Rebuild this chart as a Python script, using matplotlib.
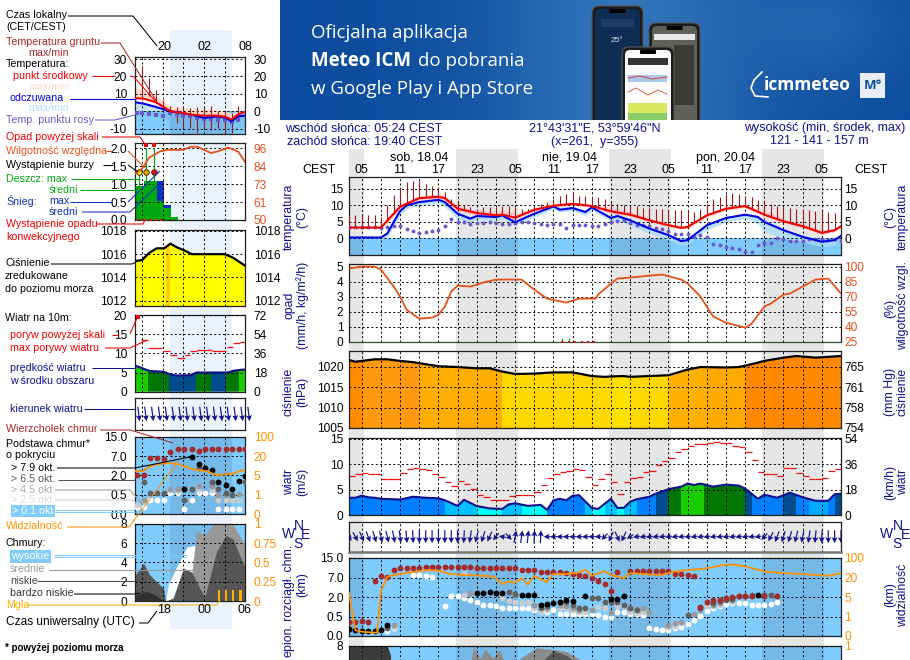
import numpy as np
import matplotlib
matplotlib.use('Agg')
import matplotlib.pyplot as plt
from matplotlib.patches import Polygon, Rectangle, FancyBboxPatch

W, H = 910, 660
plt.rcParams['font.family'] = ['Liberation Sans', 'DejaVu Sans']

BLUE_BG = '#80ccff'
NIGHT_GRAY = '#e6e6e6'
NIGHT_PALE = '#eaf2fd'
NAVY = '#10108c'
RH_COL = '#e8501a'
VIS_COL = '#ff9000'
TOP_COL = '#a52a2a'
GROUND_COL = '#a01818'
DEW_COL = '#6a5acd'

km_levels = [0, 0.5, 2, 7, 15]
vis_levels = [0, 1, 5, 20, 100]
positions = [0, 1, 2, 3, 4]

# ---- long forecast, hours counted from sat 18.04 00:00 local
night_main = [(3, 5.4), (19.67, 29.4), (43.67, 53.4), (67.67, 77.4)]
hour_ticks = [5, 11, 17, 23, 29, 35, 41, 47, 53, 59, 65, 71, 77]
hour_labels = ['05', '11', '17', '23', '05', '11', '17', '23', '05', '11', '17', '23', '05']

temp_hours = [3, 5, 8, 11, 14, 17, 18, 20, 23, 26, 27, 29, 32, 35, 38, 41, 44, 47, 50, 53, 55, 56, 59, 62, 65, 68, 71, 74, 77, 79, 80]
temp_mid = [3.3, 3.3, 3.3, 9.6, 12.2, 12.6, 12.2, 9.0, 7.7, 7.0, 7.2, 6.3, 8.7, 9.9, 10.5, 9.8, 8.2, 7.2, 5.5, 4.0, 3.2, 3.5, 7.0, 9.0, 9.8, 7.2, 5.2, 3.7, 1.7, 2.5, 3.7]
temp_hi = [3.6, 3.6, 3.6, 10.5, 13, 13.5, 13, 10, 8.5, 8.2, 8.5, 7.6, 9.2, 10.4, 11, 10.3, 9.4, 8.2, 6.2, 4.6, 3.7, 4, 7.6, 9.6, 10.4, 8.6, 6, 4.6, 2.7, 3, 4]
temp_lo = [3.0, 3.0, 3.0, 8.8, 11.6, 12, 11.4, 8.2, 7, 6.4, 6.5, 5.7, 8, 9.4, 10, 9.4, 7.6, 6.7, 5, 3.6, 2.8, 3, 6.4, 8.5, 9.3, 6.8, 4.7, 3.2, 1.2, 2, 3.2]

feel_hours = [3, 8, 9, 10, 11, 12, 14, 17, 18, 20, 22, 23, 26, 27, 29, 32, 35, 36, 38, 40, 41, 44, 45, 47, 50, 53, 55, 56, 59, 62, 65, 67, 68, 71, 74, 77, 79, 80]
feel_mid = [.3, .3, 1.5, 5, 8.3, 10, 11, 11.7, 11, 7.5, 6, 6.8, 6.5, 7, 4.9, 7.5, 9.7, 8.7, 9.2, 8, 9.4, 6.2, 6.8, 5.5, 3, 1, -.8, -.5, 4, 6.2, 7.2, 6.5, 5, 2.5, .5, -1, -.5, .8]
feel_hi = [.5, .5, 2.2, 6, 9, 10.6, 11.5, 12, 11.5, 8, 6.6, 7.2, 7, 7.4, 5.4, 8, 10, 9.5, 9.7, 8.7, 9.8, 6.8, 7.2, 6, 3.5, 1.5, -.4, 0, 4.5, 6.6, 7.6, 7, 5.5, 3, 1, -.6, 0, 1.2]
feel_lo = [0, 0, .3, 3.6, 7, 9, 10, 10.6, 9.6, 6, 5, 5.7, 5.4, 5.8, 4, 6.5, 9, 8, 8.4, 7, 8.6, 5.2, 5.6, 4, 1.5, -.5, -2, -1.8, 2.6, 5, 6, 4.4, 2, 0, -1, -2.5, -2, -.6]

hourly = list(range(3, 81))
ground_max = [7, 7, 7, 7, 7, 6.5, 10, 13.3, 15, 17, 17.3, 17.3, 16.5, 16, 15.5, 14, 12, 11, 10, 9.5, 9, 9.5, 9.5, 9.5, 9.8, 9.8, 9.5, 9, 9, 10, 10.5, 11, 12, 13, 13.5, 14, 13, 13, 12.5, 12.5, 12, 11, 10.5, 10, 9.7, 9.7, 9.3, 9.3, 9, 8.8, 8.5, 8.5, 8.5, 8.5, 8, 9, 10.3, 12, 12.7, 13.5, 13.7, 13.5, 13, 12.7, 11.7, 11, 10.5, 9.7, 9.5, 9.3, 9, 9, 8.5, 8.3, 8.3, 8, 7.7, 5.5]
ground_min = [3.3, 3.3, 3.3, 3.3, 3.3, 3.3, 5, 7.5, 9.6, 10.5, 11.4, 12.2, 12.3, 12.5, 12.6, 12.2, 10.5, 9, 8.5, 8, 7.7, 7.5, 7.3, 7, 7.2, 6.8, 6.3, 7, 7.8, 8.7, 9.1, 9.5, 9.9, 10.1, 10.3, 10.5, 10.2, 10, 9.8, 9.3, 8.7, 8.2, 7.8, 7.5, 7.2, 6.6, 6, 5.5, 5, 4.5, 4, 3.6, 3.2, 3.5, 4.6, 5.8, 7, 7.7, 8.4, 9, 9.3, 9.6, 9.8, 9.2, 8.5, 7.2, 6.5, 5.9, 5.2, 4.7, 4.2, 3.7, 3, 2.4, 1.7, 2, 2.5, 3.7]
dew_point = [3.5, 3.5, 3.5, 3.5, 3.5, 3.3, 3.5, 3.9, 3.9, 2.8, 2.2, 1.7, 2, 2.2, 2.7, 3.9, 6, 5, 5, 4.5, 4.8, 4.8, 5, 4.7, 4.5, 4.5, 4.7, 5, 5, 4.7, 4.3, 4, 4.3, 4.3, 3.3, 4, 4.1, 4.1, 3.9, 3.9, 4.5, 5, 5.3, 5.5, 4.7, 4.2, 4, 3.7, 3.2, 2.8, 2.2, 1.5, 1.5, 1.3, .5, 1, .3, -1.6, -2.1, -2.5, -3, -3.2, -4, -4, -2, -1.3, -1.3, .2, -.3, -.7, -.9, -.7, -.3, -.3, -.3, -.5, -.3, -.7]

rh_hours = [3, 5, 7, 8, 10, 11, 12, 14, 16, 17, 18, 19, 20, 22, 24, 26, 28, 30, 32, 34, 37, 39, 41.6, 42, 44, 45, 47, 50, 52, 55, 56, 58, 60, 62, 65, 66, 68, 69, 71, 72, 74, 76, 78, 80]
rh_values = [98, 100, 100, 97, 80, 70, 57, 48, 49, 52, 60, 75, 81, 80, 84, 87, 87, 87, 77, 68, 64, 68, 68, 72, 83, 88, 89, 91, 92, 87, 83, 70, 50, 44, 39, 43, 60, 63, 72, 73, 80, 87, 88, 73]
rain_sign_hours = [36.4, 37.4, 38.4, 39.4, 40.4, 41.4]
rain_tick_hours = [36.4, 37.4]

press_hours = [3, 4, 5, 7, 9, 11, 13, 15, 17, 20, 23, 25, 27, 29, 32, 35, 38, 41, 43, 44, 46, 47, 50, 53, 56, 58, 62, 64, 66, 68, 71, 73, 76, 80]
press_values = [1021.6, 1021.2, 1021.4, 1021.8, 1021.8, 1021.4, 1021.1, 1020.6, 1020.1, 1019.9, 1019.6, 1019.6, 1018.8, 1018.2, 1018.3, 1018.6, 1018.6, 1017.7, 1017.5, 1017.6, 1017.7, 1017.5, 1017.7, 1017.9, 1019.3, 1019.9, 1019.8, 1019.9, 1020.6, 1021.4, 1022.2, 1022.6, 1022.2, 1022.6]
press_zone_edges = [3, 5, 14, 27, 44, 47, 53, 59, 65, 80]
press_zone_cols = ['#ff8c00', '#ff9a10', '#ffae00', '#ffd800', '#ffe000', '#ffd800', '#ffb000', '#ffaa00', '#ff8800']

wind_hours = [3, 4, 5, 6, 7, 8, 11, 13, 15, 17, 18, 20, 21, 23, 25, 27, 28, 29, 31, 33, 34, 35, 36, 37, 38, 39, 41, 42, 44, 45, 46, 47, 48, 50, 51, 53, 55, 56, 57, 58, 60, 62, 64, 65, 67, 68, 70, 72, 74, 76, 78, 79, 80]
wind_speed = [3.4, 3.4, 3.8, 3.5, 3.4, 3.2, 3.05, 3.6, 3.4, 3.3, 2.9, 1.8, 3, 1.75, 1.3, 1.2, 2.1, 2.3, 1.8, 2, 1, 2.9, 3.2, 2.9, 3.8, 3.9, 1.4, 1.2, 3.2, 1.4, 1.4, 2.6, 3.1, 3.6, 4.2, 5.1, 5.6, 6.2, 5.9, 6.2, 5.6, 6, 5.8, 5.2, 3.2, 4, 3.4, 4.4, 3.5, 2.8, 2.8, 4.1, 4.2]
wind_zone_edges = [3, 18, 23, 27, 30, 34, 40, 41, 43, 45, 46, 48, 51, 53, 55, 58.5, 65, 66, 71, 73, 75, 78, 79, 80]
wind_zone_cols = ['#0080ff', '#00c0ff', '#00ffff', '#00c0ff', '#00ffff', '#0080ff', '#00c0ff', '#00ffff', '#00c0ff', '#00ffff', '#00c0ff', '#0080ff', '#004c8c', '#007700', '#18cc00', '#007700', '#004c8c', '#0080ff', '#004c8c', '#0080ff', '#00a8ff', '#0080ff', '#004c8c']
gust_values = [7.7, 8.1, 8.3, 8.1, 8.1, 7.1, 7.1, 7.1, 8.3, 9.1, 9.3, 9.1, 8.9, 8.1, 7.5, 6.6, 5.8, 6.8, 6.2, 5.2, 3.9, 3.6, 3, 2.9, 3, 3.8, 4, 4, 4, 4.6, 6, 7.3, 8.1, 8.5, 8.6, 9.1, 8.9, 7.5, 6, 7.1, 8, 6.5, 4.2, 6.5, 7.3, 7.5, 8.5, 8.6, 9.9, 10.7, 11.3, 12.5, 13.1, 13.6, 14.1, 14.1, 14.3, 14.5, 14.3, 14.3, 13.6, 13.4, 12.5, 10.9, 8.5, 8.1, 8.1, 7.7, 9.3, 9.3, 8.3, 7.7, 7.1, 7.1, 7.3, 8.7, 9.1]
wind_from = [310, 315, 320, 325, 330, 335, 335, 340, 345, 350, 355, 0, 0, 0, 0, 0, 0, 0, 5, 15, 25, 30, 40, 55, 95, 300, 200, 195, 190, 185, 185, 90, 90, 90, 90, 90, 90, 90, 90, 90, 60, 40, 320, 40, 70, 85, 85, 85, 85, 85, 85, 85, 85, 85, 85, 85, 85, 85, 85, 85, 85, 85, 85, 85, 85, 60, 45, 35, 30, 30, 25, 20, 15, 10, 5, 0, 0, 0]

top_h = [3, 4, 5, 6, 7, 8, 9, 10, 11, 12, 13, 14, 15, 16, 17, 18, 19, 20, 21, 22, 23, 24, 25, 26, 27, 28, 29, 30, 31, 32, 33, 34, 35, 36, 37, 38, 39, 40, 41, 42, 43, 44, 45, 47, 48, 49, 50, 51, 52, 53, 54, 55, 56, 57, 58, 59, 60, 61, 62, 63, 64, 65, 66, 68, 70]
top_km = [.37, .37, .39, .37, 6, 7.6, 7.3, 10.2, 10.8, 10.8, 10.8, 11.1, 11.4, 11.4, 11.4, 11.4, 11.4, 11.4, 11.4, 11.4, 10.8, 10.8, 10.8, 10.8, 10.8, 10.8, 10.8, 10.2, 10.2, 10.2, 9.4, 9.4, 9.1, 9.1, 8.7, 8.4, 8.1, 7.7, 6.85, 6.15, 5.3, 3.6, 9.2, 9.8, 9.8, 9.8, 9.8, 9.8, 9.8, 9.5, 8.4, 8.4, 8.1, 7.8, 1.25, 1.6, 1.8, 1.8, 1.9, 2.1, 2.3, 2.3, 2.3, 2.3, 2.3]
black_h = [3, 4, 5, 6, 7, 8, 9, 23, 24, 25, 26, 27, 30, 31, 32, 33, 34, 35, 36, 37, 38, 40, 44, 45, 46, 67]
black_km = [.17, .15, .13, .13, .13, .15, .27, 3, 3, 3.25, 3.15, 3, 2.55, 2.55, 2.55, 1.4, 1.45, 1.52, 1.58, 1.78, 1.7, 2.3, 1.83, 1.83, 2.3, 2.45]
dark_h = [9, 28, 29, 33, 34, 36, 37, 38, 39, 40, 41, 42, 43, 44, 45, 46, 47, 48, 56, 58, 60, 61, 62, 63, 64, 65, 66, 68, 69]
dark_km = [.21, 3.25, 2.75, 1.13, 1.27, 1.58, 1.6, 1.4, 1.19, 1.13, 1.96, 1.96, 1.65, 1.65, 1.6, 1.4, 1.13, 1.0, .62, 1.13, 1.52, 1.7, 1.78, 1.85, 2.15, 2.3, 2.4, 2.45, 2.45]
mid_h = [10, 22, 28, 29, 32, 34, 36, 37, 38, 39, 41, 44, 47, 48, 49, 50, 53, 54, 55, 57, 58, 60, 61, 63, 64, 65, 66, 69]
mid_km = [.28, 2.9, 3.4, 2.55, 1.4, 1.13, 1.4, 1.34, 1.13, 1.0, 1.0, .75, 1.13, 1.05, 1.13, .83, .28, .33, .37, .68, 1.0, 1.4, 1.52, 1.78, 2.15, 2.3, 2.3, 2.4]
light_h = [10, 21, 21, 27, 28, 29, 30, 31, 32, 33, 34, 36, 37, 38, 39, 40, 42, 43, 45, 46, 47, 48, 49, 50, 53, 54, 55, 59, 60, 61, 63]
light_km = [.23, 8.9, 2.55, 1.91, 1.7, 1.6, 1.52, 1.58, 1.13, .88, 1.0, 1.13, 1.19, 1.0, .88, .83, 1.23, 1.13, 1.27, 1.27, .88, .75, .88, .83, .24, .26, .33, 1.27, 1.27, 1.4, 1.65]
white_h = [9, 10, 13, 14, 15, 16, 18, 19, 20, 21, 22, 23, 24, 25, 26, 27, 28, 29, 30, 31, 32, 33, 34, 35, 36, 37, 38, 39, 40, 41, 42, 43, 44, 45, 46, 47, 48, 49, 50, 51, 52, 53, 54, 55, 56, 57, 58, 59, 60, 61, 62, 63, 64, 65, 66, 67, 68, 69, 70]
white_km = [.13, .2, 8.1, 7.9, 7.6, 7.3, 1.27, 2.2, 2.15, 1.91, 1.78, 1.65, 1.4, 1.4, 1.27, 1.13, 1.13, 1.13, 1.19, 1.13, 1.0, .83, .88, 1.0, .7, .7, .7, .68, .68, .68, .62, .5, .48, .88, .88, .68, .68, .62, .2, .17, .16, .16, .21, .23, .3, .42, .57, .93, 1.13, 1.27, 1.48, 1.52, 1.52, 1.52, 1.4, 1.4, 1.4, 1.45, 1.65]
vis_hours = [3, 4, 5, 7, 7.4, 8, 9, 11, 13, 15, 17, 19, 21, 23, 25.6, 27, 28, 29, 30, 31, 32, 34, 35, 37, 39, 40, 41, 42, 43, 44, 46, 47, 51, 52, 54, 59, 62, 63, 65, 68, 71, 74, 77, 78, 80]
vis_values = [8, .3, .22, .17, .17, 9.2, 24, 34, 42, 50, 48, 34, 30, 29, 24, 15, 17, 16, 19.5, 14.5, 27, 16.4, 34, 34, 41, 52, 27, 38, 45, 31, 19.5, 38, 31, 31, 45, 58, 73, 73, 66, 45, 38, 34, 29, 27, 38]

cover_high_h = [3, 9, 9.5]
cover_high_v = [8, 8, 7]
cover_gray_h = [22, 22.5, 23.5, 24.3, 25.5, 26.5, 27.2, 27.6, 29, 29.8, 32.4, 35, 37, 39.1, 39.5]
cover_gray_v = [6, 7.9, 6.7, 7.6, 6.7, 7.6, 6.5, 6, 6, 6.7, 7.8, 7.6, 7.4, 6.6, 6]
cover_dark_h = [32.8, 33.4, 35, 37, 38, 38.6]
cover_dark_v = [6, 6.5, 7.5, 7, 6.5, 6]

# ---- short forecast, hours counted from 00:00 of the day before
small_night = (21.05, 30)
small_grid = [17, 20, 23, 26, 29]
s_temp_h = [16, 17.2, 19, 21.1, 22.9, 24.1, 26, 28, 29.2, 30, 30.9, 32]
s_temp_mid = [7.5, 7.3, 5.2, 0, -1, -1.9, -2.5, -2.5, -3.3, -4.8, -1.9, -.2]
s_feel_mid = [5.2, 4.4, 2.5, 0, -1, -1.9, -3.8, -2.9, -3.8, -5.8, -2.9, -2.5]
s_temp_hi = [13.5, 12, 8.7, 2.9, 2, 1.5, 1, 1, 0, -1, 0, 0]
s_feel_lo = [-1, -1.5, -2, -5, -6, -7, -9, -9, -10, -12, -10, -9]
s_ground_h = list(range(17, 32))
s_ground_max = [26, 19, 12.5, 6.7, 3, 2.5, 2.5, 2, 2.3, 2.3, 2.9, 0, 0, -1, 3]
s_ground_min = [6.7, 8.7, 4.8, 1, -1.9, -6.7, -9.6, -9.6, -12.5, -9.6, -10.6, -9.6, -12.5, -12.5, -5.8]
s_dew_h = [16.3, 17, 18, 19, 20, 21, 22, 23, 24, 25, 26, 27, 28, 29, 30, 31]
s_dew = [-1, -1, -1.5, -1.9, -2.5, -1, -1.3, -2.9, -2.9, -3.8, -4.4, -4.4, -4.8, -5.2, -6.3, -4.8]

s_rain_edges = [16, 17.2, 19.2, 20.2, 21.2, 22.2]
s_rain_mean = [.96, 1.1, .53, .34, .07]
s_snow_top = [0, 0, 1.1, .43, 0]
s_rain_max_h = [16.6, 17.6, 18.7]
s_rain_max = [1.35, 2.0, 2.0]
s_storm_h = [16.6, 17.6, 18.7]
s_storm_y = [1.35, 1.35, 1.35]
s_storm_cols = ['#ffe000', '#f0a000', '#e01010']
s_over_h = [17.6, 18.7]
s_over_y = [2.1, 2.1]
s_conv_h = [16.3, 17, 17.6, 18.3, 19, 19.7]
s_rh_h = [16, 17, 18, 19.6, 20.6, 23, 24, 25, 27, 28, 29.5, 30.4, 31, 32]
s_rh = [80, 83, 90, 94, 95, 95, 97, 97, 93, 94, 96.5, 95, 93.7, 87]

s_press_h = [16, 17, 18, 19.1, 20.2, 21.1, 22, 23.2, 24.2, 29, 30.2, 32]
s_press = [1015.4, 1015.5, 1016.1, 1016.5, 1016.5, 1016.9, 1016.6, 1016.3, 1016, 1016, 1015.7, 1015]
s_press_zone_edges = [16, 20.5, 21.1, 32]
s_press_zone_cols = ['#ffff00', '#ffcc00', '#ffff00']

s_wind_h = [16, 17.2, 18.1, 20.1, 21.1, 22, 24, 24.9, 26.9, 29.4, 30.4, 31.3, 32]
s_wind = [6.8, 6, 5.4, 5.2, 4.5, 4.2, 4.3, 5, 5, 5, 5.5, 5.7, 5.8]
s_wind_zone_edges = [16, 17.9, 20.9, 24.9, 27, 29.2, 31.1, 32]
s_wind_zone_cols = ['#18cc00', '#007700', '#004c8c', '#007700', '#004c8c', '#007700', '#18cc00']
s_gust_start = [16.9, 17.9, 20, 21.1, 22.1, 23.2, 24, 25, 27.1, 29.3, 30.2, 31.2]
s_gust_end = [17.9, 19.9, 21.1, 22, 23.2, 24, 25, 27.1, 29.2, 30.2, 31.2, 32]
s_gust = [13.5, 11.5, 10.5, 9.5, 8.7, 9.7, 10.5, 10.8, 10.5, 11.6, 12.7, 13]
s_dir_h = [16.5, 17.5, 18.5, 19.5, 20.5, 21.5, 22.5, 23.5, 24.5, 25.5, 26.5, 27.5, 28.5, 29.5, 30.5, 31.5, 32.5]
s_dir_from = [345, 345, 345, 345, 345, 345, 345, 345, 345, 345, 345, 345, 345, 345, 345, 345, 345]

s_top_h = [16.2, 17.2, 18.1, 19.2, 20.2, 21.1, 22.2, 23.1, 24.2, 25.2, 26.1, 27.1, 28.1, 29.2, 30.1, 31.1, 32]
s_top_km = [2, 2, 6.4, 6.4, 6.15, 8.8, 9.9, 9.9, 9.9, 9.1, 9.9, 9.9, 9.9, 9.9, 9.9, 9.9, 9.9]
s_black_h = [23.1, 24.2, 25.2, 26.1, 27.1, 28.1, 29.2, 30.1, 31.1, 32]
s_black_km = [.93, 6.85, 4.85, 3.85, 3.4, 1.52, 1.27, .93, 1.58, 1.96]
s_dark_h = [17.2, 18.1, 19.2, 20.2, 23.1, 24.2, 25.2, 27.1, 28.1, 29.2, 30.1, 32]
s_dark_km = [1.52, .68, .68, .68, .36, .93, 3.85, 1.52, .93, .68, .5, 1.52]
s_mid_h = [17.2, 21.1, 22.2, 25.2, 27.1, 28.1, 29.2, 31.1]
s_mid_km = [.37, .93, .93, 1.19, 1.19, .5, .5, .54]
s_light_h = [16.2, 17.2, 21.1, 22.2, 25.2, 27.1, 28.1, 29.2, 30.1, 31.1]
s_light_km = [.24, .34, .9, .78, .93, .9, .37, .37, .37, .37]
s_white_h = [16.2, 17.2, 18.1, 19.2, 20.2, 21.1, 22.2, 23.1, 24.2, 25.2, 26.1, 27.1, 28.1, 29.2, 30.1, 31.1]
s_white_km = [.18, .2, .37, .37, .38, .68, .68, .13, .36, .68, .68, .68, .13, .13, .13, .13]
s_vis_h = [16, 17.2, 18, 19.1, 20.2, 22, 23.2, 24.9, 26.3, 27.8, 29.2, 30.4, 31.4, 32]
s_vis = [8.5, 8.5, 11.8, 13.6, 14.4, 14.4, 11.8, 9.2, 8.5, 5.4, 5.9, 6.7, 8.8, 9.2]

s_cov_high_h = [20.4, 20.8, 22, 23.5, 24.9, 26.1, 27.3, 28.3, 30.2, 32]
s_cov_high = [0, 1.7, 3.5, 5.6, 5.8, 6, 7.8, 8, 7.9, 5.2]
s_cov_mid_h = [23.2, 24.2, 24.9, 26.1, 27.3, 30.2, 32]
s_cov_mid = [.3, 2.7, 7.2, 6.8, 7.9, 7.9, 5.8]
s_cov_low_h = [16, 17.2, 18.1, 20.1, 20.4, 21.5, 23, 24.2, 25.4, 26.1, 27.8, 29.2, 30.2, 32]
s_cov_low = [2.7, 3.9, 2.7, 1.3, 0, .3, 3.4, 3, 1.3, .4, 5.1, 6.8, 6.4, 3.4]
s_cov_vlow_h = [16, 17.6, 19, 20.1]
s_cov_vlow = [.6, 1, .6, 0]
s_fog_h = [28.15, 29.2, 30.2, 31.3]
s_fog = [1.1, 1.1, 1.1, 1.1]


fig = plt.figure(figsize=(W / 100, H / 100), dpi=100, facecolor='white')


def px_axes(left, top, right, bottom):
    ax = fig.add_axes([left / W, 1 - bottom / H, (right - left) / W, (bottom - top) / H], zorder=5)
    ax.patch.set_visible(False)
    return ax


# pixel layers under and over the panels
back = fig.add_axes([0, 0, 1, 1], zorder=0)
back.set_xlim(0, W)
back.set_ylim(H, 0)
back.axis('off')
over = fig.add_axes([0, 0, 1, 1], zorder=10)
over.set_xlim(0, W)
over.set_ylim(H, 0)
over.axis('off')
over.patch.set_visible(False)

MAIN_X = (349, 841)
main_xlim = (3, 80)
small_xlim = (16, 32)


def main_px(h):
    return MAIN_X[0] + (h - 3) * (MAIN_X[1] - MAIN_X[0]) / 77


for a, b in night_main:
    back.add_patch(Rectangle((main_px(a), 149), main_px(b) - main_px(a), 511, color=NIGHT_GRAY, lw=0))
back.add_patch(Rectangle((170, 30), 61.7, 599, color=NIGHT_PALE, lw=0))


def panel(box, xlim, vgrid, ylim, yticks, ylabels, rticks=None, rlabels=None, rcol='black', fs=8.6):
    ax = px_axes(*box)
    small = xlim == small_xlim
    ax.set_xlim(*xlim)
    ax.set_ylim(*ylim)
    ax.set_xticks(vgrid)
    ax.set_xticklabels([])
    ax.set_yticks(yticks)
    ax.set_yticklabels(ylabels, fontsize=fs)
    ax.minorticks_off()
    ax.tick_params(length=0, pad=6 if small else 4)
    ax.grid(True, color='black', ls=(0, (2, 2.5)), lw=0.7, zorder=6)
    ax.set_axisbelow(False)
    for s in ax.spines.values():
        s.set_linewidth(0.9)
        s.set_color('#202020')
    tw = ax.twinx()
    tw.set_ylim(*ylim)
    tw.set_yticks(rticks if rticks is not None else yticks)
    tw.set_yticklabels(rlabels if rlabels is not None else ylabels, fontsize=fs, color=rcol)
    tw.minorticks_off()
    tw.tick_params(length=0, pad=6 if small else 2.5)
    tw.patch.set_visible(False)
    for s in tw.spines.values():
        s.set_visible(False)
    return ax, tw


def zone_fill(ax, xs, ys, edges, cols, base):
    poly = Polygon(list(zip([xs[0]] + list(xs) + [xs[-1]], [base] + list(ys) + [base])), transform=ax.transData, fc='none', ec='none')
    ax.add_patch(poly)
    for i, c in enumerate(cols):
        sp = ax.axvspan(edges[i], edges[i + 1], color=c, lw=0, zorder=1)
        sp.set_clip_path(poly)


def arrows(ax, xs, dirs, lx, ly, clip=True):
    th = np.deg2rad(dirs)
    ax.quiver(xs, np.zeros(len(xs)), -lx * np.sin(th), -ly * np.cos(th), angles='uv', scale_units='dots', scale=1,
              units='dots', width=1.2, headwidth=5, headlength=5, headaxislength=4.2, pivot='mid', color='#14148c',
              zorder=4, clip_on=clip)


def dark_band(ax, spans, frac=1.0):
    for a, b in spans:
        ax.axvspan(a, b, ymin=0, ymax=frac, color='black', alpha=0.09, lw=0, zorder=1.3)


def km_scale(ax):
    ax.set_yscale('function', functions=(lambda v: np.interp(v, km_levels, positions), lambda p: np.interp(p, positions, km_levels)))


def vis_scale(ax):
    ax.set_yscale('function', functions=(lambda v: np.interp(v, vis_levels, positions), lambda p: np.interp(p, positions, vis_levels)))


def cloud_panel(box, xlim, vgrid, spans):
    ax, tw = panel(box, xlim, vgrid, (0, 1), [0, 1], ['', ''], [0, 1], ['', ''])
    km_scale(ax)
    ax.set_ylim(0, 15)
    ax.set_yticks(km_levels)
    ax.set_yticklabels(['0.0', '0.5', '2.0', '7.0', '15.0'], fontsize=8.6)
    ax.minorticks_off()
    ax.set_facecolor(BLUE_BG)
    ax.patch.set_visible(True)
    vis_scale(tw)
    tw.set_ylim(0, 100)
    tw.set_yticks(vis_levels)
    tw.set_yticklabels(['0', '1', '5', '20', '100'], fontsize=8.6, color=VIS_COL)
    tw.minorticks_off()
    dark_band(ax, spans)
    return ax, tw


def dots(ax, xs, ys, col, ms=4.2):
    ax.plot(xs, ys, 'o', color=col, ms=ms, mew=0, zorder=4, clip_on=True)


# ---- main panels
ax, tw = panel((349, 177, 841, 255), main_xlim, list(range(5, 80, 3)), (-5, 18.6), [0, 5, 10, 15], ['0', '5', '10', '15'])
ax.axhspan(-5, 0, color=BLUE_BG, lw=0, zorder=1)
dark_band(ax, night_main, 5 / 23.6)
ax.fill_between(temp_hours, temp_lo, temp_hi, color='#ffb0b0', alpha=0.55, lw=0, zorder=2)
ax.fill_between(feel_hours, feel_lo, feel_hi, color='#a8dcff', alpha=0.8, lw=0, zorder=2)
ax.vlines(hourly, ground_min, ground_max, color=GROUND_COL, lw=0.8, zorder=3)
ax.plot(hourly, dew_point, 'o', color=DEW_COL, ms=2.8, mew=0, zorder=3.5)
ax.plot(feel_hours, feel_mid, color='#0000e6', lw=1.5, zorder=4)
ax.plot(temp_hours, temp_mid, color='#f00000', lw=1.5, zorder=4.5)

ax, tw = panel((349, 264, 841, 341.7), main_xlim, list(range(5, 80, 3)), (0, 5.17), [0, 1, 2, 3, 4, 5], ['0', '1', '2', '3', '4', '5'])
tw.set_ylim(25, 25 + 15 * 5.17)
tw.set_yticks([25, 40, 55, 70, 85, 100])
tw.set_yticklabels(['25', '40', '55', '70', '85', '100'], fontsize=8.6, color=RH_COL)
tw.plot(rh_hours, rh_values, color=RH_COL, lw=1.3, zorder=4)
ax.vlines(rain_tick_hours, 0, 0.22, color='#10a010', lw=0.8, zorder=4)
ax.plot(rain_sign_hours, np.zeros(len(rain_sign_hours)), 's', color='#e01010', ms=2, mew=0, zorder=7, clip_on=False)
ax.spines['bottom'].set_color('#305030')

ax, tw = panel((349, 350.7, 841, 428), main_xlim, list(range(5, 80, 3)), (1005, 1023.9), [1005, 1010, 1015, 1020], ['1005', '1010', '1015', '1020'],
               [1005, 1010, 1015, 1020], ['754', '758', '761', '765'])
zone_fill(ax, press_hours, press_values, press_zone_edges, press_zone_cols, 1005)
ax.plot(press_hours, press_values, color='black', lw=1.6, zorder=4)

ax, tw = panel((349, 437.7, 841, 515), main_xlim, list(range(5, 80, 3)), (0, 15.25), [0, 5, 10, 15], ['0', '5', '10', '15'],
               [0, 5, 10, 15], ['0', '18', '36', '54'])
zone_fill(ax, wind_hours, wind_speed, wind_zone_edges, wind_zone_cols, 0)
ax.plot(wind_hours, wind_speed, color='#10108c', lw=1.5, zorder=4)
ax.hlines(gust_values, hourly[:-1], hourly[1:], color='#f01010', lw=0.9, zorder=4)

ax = px_axes(349, 521.7, 841, 551.7)
ax.set_xlim(*main_xlim)
ax.set_ylim(-1, 1)
ax.set_xticks(list(range(5, 80, 3)))
ax.set_yticks([])
ax.set_xticklabels([])
ax.tick_params(length=0)
ax.grid(True, axis='x', color='black', ls=(0, (2, 2.5)), lw=0.7)
for s in ax.spines.values():
    s.set_linewidth(0.9)
    s.set_color('#202020')
ax.spines['bottom'].set_linewidth(1.8)
ax.spines['bottom'].set_color('#777777')
arrows(ax, hourly, wind_from, 7, 13)

ax, tw = cloud_panel((349, 558, 841, 636), main_xlim, list(range(5, 80, 3)), night_main)
dots(ax, white_h, white_km, 'white')
dots(ax, light_h, light_km, '#cccccc')
dots(ax, mid_h, mid_km, '#999999')
dots(ax, dark_h, dark_km, '#606060')
dots(ax, black_h, black_km, 'black')
dots(ax, top_h, top_km, TOP_COL)
tw.plot(vis_hours, vis_values, color=VIS_COL, lw=1.3, zorder=5)

ax, tw = panel((349, 645.7, 841, 723), main_xlim, list(range(5, 80, 3)), (0, 8), [8], ['8'], [8], ['1'], VIS_COL)
ax.set_yticks([0, 2, 4, 6, 8])
ax.set_yticklabels(['', '', '', '', '8'], fontsize=8.6)
ax.set_facecolor(BLUE_BG)
ax.patch.set_visible(True)
dark_band(ax, night_main)
ax.fill_between(cover_gray_h, 0, cover_gray_v, color='#8c8c8c', lw=0, zorder=2)
ax.fill_between(cover_dark_h, 0, cover_dark_v, color='#585858', lw=0, zorder=2.5)
ax.fill_between(cover_high_h, 0, cover_high_v, color='#3c3c3c', lw=0, zorder=2.5)

# ---- left key panels
ax, tw = panel((135.3, 57.3, 245.3, 134.3), small_xlim, small_grid, (-13.2, 31), [-10, 0, 10, 20, 30], ['-10', '0', '10', '20', '30'])
ax.axhspan(-13.2, 0, color=BLUE_BG, lw=0, zorder=1)
ax.axvspan(*small_night, ymin=0, ymax=13.2 / 44.2, color='black', alpha=0.09, lw=0, zorder=1.3)
ax.fill_between(s_temp_h, s_temp_mid, s_temp_hi, color='#ffd9c8', lw=0, zorder=1.5)
ax.fill_between(s_temp_h, s_feel_lo, s_feel_mid, color='#6fb4ea', alpha=0.4, lw=0, zorder=1.5)
ax.vlines(s_ground_h, s_ground_min, s_ground_max, color=GROUND_COL, lw=0.8, zorder=3)
ax.plot(s_dew_h, s_dew, 's', color=DEW_COL, ms=2.6, mew=0, zorder=3.5)
ax.plot(s_temp_h, s_feel_mid, color='#0000e6', lw=1.5, zorder=4)
ax.plot(s_temp_h, s_temp_mid, color='#f00000', lw=1.5, zorder=4.5)

ax, tw = panel((135.3, 143.3, 245.3, 220), small_xlim, small_grid, (0, 2.14), [0, .5, 1, 1.5, 2], ['0.0', '0.5', '1.0', '1.5', '2.0'])
tw.set_ylim(50, 50 + 23 * 2.14)
tw.set_yticks([50, 61.5, 73, 84.5, 96])
tw.set_yticklabels(['50', '61', '73', '84', '96'], fontsize=8.6, color=RH_COL)
tw.plot(s_rh_h, s_rh, color=RH_COL, lw=1.3, zorder=4)
ax.bar(s_rain_edges[:-1], s_snow_top, np.diff(s_rain_edges), align='edge', color='#1030c0', lw=0, zorder=2)
ax.bar(s_rain_edges[:-1], s_rain_mean, np.diff(s_rain_edges), align='edge', color='#00a810', lw=0, zorder=2.2)
ax.vlines(s_rain_max_h, 0, s_rain_max, color='#00a810', lw=0.9, zorder=3)
ax.plot(s_conv_h, np.zeros(len(s_conv_h)), 's', color='#e01010', ms=1.8, mew=0, zorder=7, clip_on=False)
for xv, yv, cv in zip(s_storm_h, s_storm_y, s_storm_cols):
    ax.plot([xv], [yv], 'o', color=cv, mec='#302000', mew=0.6, ms=4, zorder=8)
ax.plot(s_over_h, s_over_y, 's', color='#e01010', ms=2.6, mew=0, zorder=8)

ax, tw = panel((135.3, 229.7, 245.3, 306), small_xlim, small_grid, (1011.55, 1018.1), [1012, 1014, 1016, 1018], ['1012', '1014', '1016', '1018'])
zone_fill(ax, s_press_h, s_press, s_press_zone_edges, s_press_zone_cols, 1011.55)
ax.plot(s_press_h, s_press, color='black', lw=1.6, zorder=4)

ax, tw = panel((135.3, 315, 245.3, 391.7), small_xlim, small_grid, (0, 20), [0, 5, 10, 15, 20], ['0', '5', '10', '15', '20'],
               [0, 5, 10, 15, 20], ['0', '18', '36', '54', '72'])
zone_fill(ax, s_wind_h, s_wind, s_wind_zone_edges, s_wind_zone_cols, 0)
ax.plot(s_wind_h, s_wind, color='#10108c', lw=1.5, zorder=4)
ax.hlines(s_gust, s_gust_start, s_gust_end, color='#f01010', lw=0.9, zorder=4)
ax.plot([16.4], [19.5], 's', color='#f01010', ms=2.6, mew=0, zorder=8)

ax = px_axes(135.3, 398, 245.3, 430)
ax.set_xlim(*small_xlim)
ax.set_ylim(-1, 1)
ax.set_xticks(small_grid)
ax.set_yticks([])
ax.set_xticklabels([])
ax.tick_params(length=0)
ax.grid(True, axis='x', color='black', ls=(0, (2, 2.5)), lw=0.7)
for s in ax.spines.values():
    s.set_linewidth(0.9)
    s.set_color('#202020')
arrows(ax, s_dir_h, s_dir_from, 7, 15, clip=False)

ax, tw = cloud_panel((135.3, 436.7, 245.3, 514.3), small_xlim, small_grid, [small_night])
dots(ax, s_white_h, s_white_km, 'white')
dots(ax, s_light_h, s_light_km, '#cccccc')
dots(ax, s_mid_h, s_mid_km, '#999999')
dots(ax, s_dark_h, s_dark_km, '#606060')
dots(ax, s_black_h, s_black_km, 'black')
dots(ax, s_top_h, s_top_km, TOP_COL)
tw.plot(s_vis_h, s_vis, color=VIS_COL, lw=1.3, zorder=5)

ax, tw = panel((135.3, 523.7, 245.3, 601), small_xlim, small_grid, (0, 8), [0, 2, 4, 6, 8], ['0', '2', '4', '6', '8'],
               [0, 2, 4, 6, 8], ['0', '0.25', '0.5', '0.75', '1'], VIS_COL)
ax.set_facecolor(BLUE_BG)
ax.patch.set_visible(True)
dark_band(ax, [small_night])
ax.fill_between(s_cov_high_h, 0, s_cov_high, color='white', lw=0, zorder=2)
ax.fill_between(s_cov_mid_h, 0, s_cov_mid, color='#979797', lw=0, zorder=2.2)
ax.fill_between(s_cov_low_h, 0, s_cov_low, color='#565656', lw=0, zorder=2.4)
ax.fill_between(s_cov_vlow_h, 0, s_cov_vlow, color='#303030', lw=0, zorder=2.6)
ax.bar(s_fog_h, s_fog, 0.36, color='#ffb000', lw=0, zorder=3)


# ---- banner
gx, gy = np.meshgrid(np.linspace(0, 1, 315), np.linspace(0, 1, 60))
glow = 0.55 * np.exp(-((gx - 0.55) / 0.22) ** 2) + 0.25 * np.exp(-((gx - 0.88) / 0.12) ** 2 - ((gy - 0.2) / 0.5) ** 2)
banner = np.dstack([0.05 + 0.26 * glow, 0.30 + 0.28 * glow, 0.62 + 0.2 * glow])
over.imshow(banner, extent=(280, 910, 120, 0), aspect='auto', zorder=1, interpolation='bilinear')
over.set_xlim(0, W)
over.set_ylim(H, 0)
banner_clip = Rectangle((280, 0), 630, 120, transform=over.transData, fc='none', ec='none')
over.add_patch(banner_clip)

banner_font = ['Open Sans', 'DejaVu Sans']
over.text(311, 33, 'Oficjalna aplikacja', color='white', fontsize=13.5, family=banner_font, va='center', zorder=3)
over.text(311, 61, 'Meteo ICM', color='white', fontsize=13.5, family=banner_font, weight='bold', va='center', zorder=3)
over.text(418, 61, 'do pobrania', color='white', fontsize=13.5, family=banner_font, va='center', zorder=3)
over.text(311, 89, 'w Google Play i App Store', color='white', fontsize=13.5, family=banner_font, va='center', zorder=3)


def screen_rect(x, y, w, h, col, z):
    r = Rectangle((x, y), w, h, color=col, lw=0, zorder=z)
    over.add_patch(r)
    r.set_clip_path(banner_clip)


def phone(x0, y0, x1, face, z):
    for box, fc, ec, zz in [((x0 + 5, y0 + 5, x1 - x0 - 10, 130), '#1c1c1e', '#555555', z),
                            ((x0 + 6, y0 + 6, x1 - x0 - 12, 130), face, 'none', z + 0.1)]:
        pad = 5 if zz == z else 3
        p = FancyBboxPatch(box[:2], box[2], box[3], boxstyle='round,pad=%d,rounding_size=%d' % (pad, pad + 2), fc=fc, ec=ec, lw=0.8, zorder=zz)
        over.add_patch(p)
        p.set_clip_path(banner_clip)
    over.add_patch(FancyBboxPatch((x0 + (x1 - x0) / 2 - 7, y0 + 4), 14, 2, boxstyle='round,pad=1', fc='black', ec='none', zorder=z + 0.2))


phone(592, 6, 643, '#0f2c52', 4)
over.text(617, 41, '25°', color='#d8e4f0', fontsize=6, ha='center', va='center', zorder=4.5)
screen_rect(601, 19, 33, 8, '#1d3d68', 4.4)
phone(649, 23, 700, '#5e6258', 5)
screen_rect(654, 34, 41, 6, '#e8e8e8', 5.4)
screen_rect(674, 45, 20, 60, '#3a3d36', 5.3)
phone(622, 47, 674, '#fbfbfb', 6)
screen_rect(628, 58, 40, 7, '#333333', 6.4)
screen_rect(628, 75, 39, 7, '#a8c8ea', 6.4)
screen_rect(628, 103, 39, 12, '#d8e860', 6.4)
screen_rect(628, 113, 39, 7, '#88cc66', 6.5)
over.plot([628, 640, 652, 667], [78, 76, 79, 77], color='#e04040', lw=0.7, zorder=6.6)
over.plot([628, 636, 648, 658, 667], [92, 88, 95, 90, 94], color='#d05030', lw=0.6, zorder=6.6)

over.text(764, 85, 'icmmeteo', color='white', fontsize=12.5, family=banner_font, weight='bold', va='center', zorder=3)
over.add_patch(Rectangle((860, 73), 25, 25, color='#e8eef6', lw=0, zorder=3))
over.text(872.5, 85.5, 'M°', color='#0e4f9e', fontsize=9.5, family=banner_font, weight='bold', ha='center', va='center', zorder=4)
over.plot([762, 754, 751, 755, 768], [72, 80, 88, 96, 97], color='white', lw=1.2, zorder=3)


# ---- text
def label(x, y, s, col='black', fs=9, **kw):
    kw.setdefault('va', 'center')
    over.text(x, y, s, color=col, fontsize=fs, zorder=20, **kw)


def lead(pts, col='black', lw=0.75):
    over.plot([p[0] for p in pts], [p[1] for p in pts], color=col, lw=lw, zorder=19, solid_capstyle='butt')


label(285, 129, 'wschód słońca: 05:24 CEST', NAVY, 9)
label(287, 142, 'zachód słońca: 19:40 CEST', NAVY, 9)
label(595, 128.5, '21°43\'31"E, 53°59\'46"N', NAVY, 9, ha='center')
label(595, 141.5, '(x=261,  y=355)', NAVY, 9, ha='center')
label(825, 128.5, 'wysokość (min, środek, max)', NAVY, 9, ha='center')
label(819, 141.5, '121 - 141 - 157 m', NAVY, 9, ha='center')

for h, s in zip(hour_ticks, hour_labels):
    label(main_px(h), 170, s, 'black', 9, ha='center')
label(419, 157.5, 'sob, 18.04', 'black', 9, ha='center')
label(570, 157.5, 'nie, 19.04', 'black', 9, ha='center')
label(726, 157.5, 'pon, 20.04', 'black', 9, ha='center')
label(319, 170, 'CEST', 'black', 9, ha='center')
label(871, 170, 'CEST', 'black', 9, ha='center')

for x, y, s in [(289, 217, 'temperatura'), (302.5, 217, '(°C)'), (289, 305, 'opad'), (303, 305, '(mm/h, kg/m²/h)'),
                (289, 392, 'ciśnienie'), (302, 392, '(hPa)'), (289, 482, 'wiatr'), (302, 482, '(m/s)'),
                (289, 598, 'pion. rozciągł. chm.'), (302, 585, '(km)'), (289, 654, 'e'),
                (890, 217, '(°C)'), (903, 217, 'temperatura'), (890, 308, '(%)'), (903, 305, 'wilgotność wzgl.'),
                (890, 392, '(mm Hg)'), (903, 392, 'ciśnienie'), (890, 482, '(km/h)'), (903, 482, 'wiatr'),
                (890, 595, '(km)'), (903, 595, 'widzialność')]:
    label(x, y, s, NAVY, 8.8, rotation=90, ha='center')
for x, y, s in [(299, 526, 'N'), (288, 534, 'W'), (306, 535, 'E'), (298, 544, 'S'),
                (898, 526, 'N'), (887, 534, 'W'), (905, 535, 'E'), (897, 544, 'S')]:
    label(x, y, s, NAVY, 10, ha='center')

label(164, 47, '20', 'black', 9, ha='center')
label(204, 47, '02', 'black', 9, ha='center')
label(245, 47, '08', 'black', 9, ha='center')
label(164, 610, '18', 'black', 9, ha='center')
label(204, 610, '00', 'black', 9, ha='center')
label(245, 610, '06', 'black', 9, ha='center')

left_texts = [
    (6, 15, 'Czas lokalny', 'black'), (6, 27, '(CET/CEST)', 'black'),
    (6, 42, 'Temperatura gruntu', TOP_COL), (28, 53, 'max/min', TOP_COL),
    (6, 64, 'Temperatura:', 'black'), (13, 76, 'punkt środkowy', '#f00000'),
    (28, 87, 'max/min', '#ffd9c8'), (10, 98, 'odczuwana', '#0000e0'), (28, 108, 'max/min', '#b0e0ff'),
    (6, 120, 'Temp. punktu rosy', DEW_COL), (6, 137, 'Opad powyżej skali', '#f00000'),
    (6, 151, 'Wilgotność względna', RH_COL), (6, 165, 'Wystąpienie burzy', 'black'),
    (6, 179, 'Deszcz: max', '#00a810'), (49, 190, 'średni', '#00a810'),
    (6, 201, 'Śnieg:', '#1030c0'), (49, 201, 'max', '#1030c0'), (49, 212, 'średni', '#1030c0'),
    (6, 224, 'Wystąpienie opadu', '#f00000'), (6, 237, 'konwekcyjnego', '#f00000'),
    (5, 263, 'Ciśnienie', 'black'), (5, 276, 'zredukowane', 'black'), (5, 289, 'do poziomu morza', 'black'),
    (5, 318, 'Wiatr na 10m:', 'black'), (10, 335, 'poryw powyżej skali', '#f00000'), (10, 348, 'max porywy wiatru', '#f00000'),
    (10, 368, 'prędkość wiatru', NAVY), (10, 381, 'w środku obszaru', NAVY), (10, 409, 'kierunek wiatru', NAVY),
    (6, 429, 'Wierzchołek chmur', TOP_COL), (6, 444, 'Podstawa chmur*', 'black'), (6, 455, 'o pokryciu', 'black'),
    (11, 468, '> 7.9 okt.', 'black'), (11, 479, '> 6.5 okt.', '#555555'), (11, 490, '> 4.5 okt.', '#aaaaaa'),
    (11, 500, '> 2.5 okt.', '#dddddd'), (6, 526, 'Widzialność', VIS_COL), (6, 543, 'Chmury:', 'black'),
    (10, 569, 'średnie', '#999999'), (10, 581, 'niskie', '#444444'), (10, 593, 'bardzo niskie', '#333333'),
    (6, 605, 'Mgła', '#ffb000'),
]
for x, y, s, c in left_texts:
    label(x, y, s, c, 7.7)
label(6, 622, 'Czas uniwersalny (UTC)', 'black', 8.6)
over.add_patch(Rectangle((11, 505), 44, 12, color=BLUE_BG, lw=0, zorder=15))
label(12, 511, '> 0.1 okt.', 'white', 7.7)
over.add_patch(Rectangle((10, 550), 41, 13, color=BLUE_BG, lw=0, zorder=15))
label(11, 556, 'wysokie', 'white', 7.7)
label(5, 648, '* powyżej poziomu morza', 'black', 7, weight='bold')

lead([(68, 16), (133, 16), (157, 46)])
lead([(101, 43), (120, 43), (157, 102)], TOP_COL)
lead([(92, 76), (115, 76)], '#f00000')
lead([(130, 76), (134, 77), (157, 103)], '#f00000')
lead([(70, 99), (136, 99)], '#0000e0')
lead([(95, 120), (115, 120), (135, 115)], DEW_COL)
lead([(102, 137), (140, 137), (146, 146)], '#f00000')
lead([(106, 151), (112, 151)], RH_COL)
lead([(128, 151), (145, 168)], RH_COL)
lead([(103, 165), (113, 165)])
lead([(128, 165), (138, 172)])
lead([(71, 179), (139, 179)], '#00a810')
lead([(80, 190), (143, 190)], '#00a810')
lead([(70, 202), (112, 202)], '#1030c0')
lead([(128, 202), (160, 171)], '#1030c0')
lead([(82, 212), (130, 212), (161, 182)], '#1030c0')
lead([(96, 224), (143, 224), (145, 220)], '#f00000')
lead([(51, 264), (132, 264), (136, 262)])
lead([(112, 335), (118, 335)], '#f00000')
lead([(130, 334), (138, 316)], '#f00000')
lead([(105, 348), (130, 348), (147, 340)], '#f00000')
lead([(92, 368), (135, 368)], NAVY)
lead([(84, 409), (135, 409)], NAVY)
lead([(100, 430), (130, 430), (173, 443)], TOP_COL)
lead([(57, 468), (135, 468), (190, 457)])
lead([(58, 480), (135, 480)], '#555555')
lead([(55, 490), (130, 490), (143, 505)], '#999999')
lead([(55, 500), (133, 500), (138, 505)], '#cccccc')
lead([(55, 509.5), (135, 509.5)], BLUE_BG)
lead([(55, 511.5), (135, 511.5)], BLUE_BG)
lead([(67, 527), (129, 527), (177, 463)], VIS_COL)
lead([(54, 555), (186, 555)], BLUE_BG)
lead([(54, 557), (186, 557)], BLUE_BG)
lead([(49, 570), (193, 570)], '#999999')
lead([(37, 581), (135, 581)], '#444444')
lead([(74, 594), (135, 594), (140, 593)])
lead([(27, 605), (216, 605), (220, 601)], '#ffb000')
lead([(139, 623), (148, 623), (157, 611)])

fig.savefig('out.png', dpi=100)
